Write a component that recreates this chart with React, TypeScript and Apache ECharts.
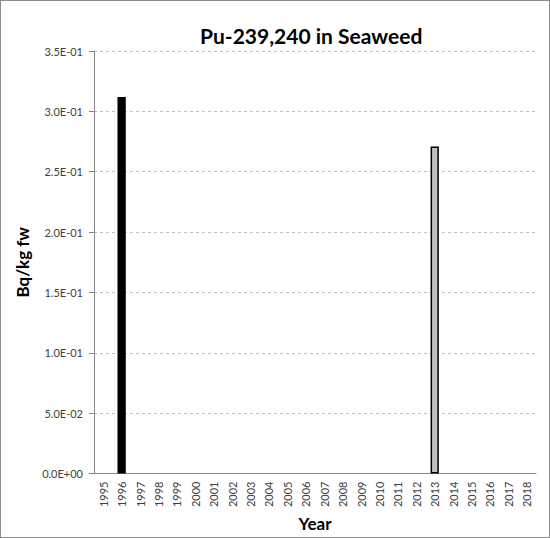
import React, { useEffect, useRef } from 'react';
import * as echarts from 'echarts';

const years = [
  '1995', '1996', '1997', '1998', '1999', '2000', '2001', '2002',
  '2003', '2004', '2005', '2006', '2007', '2008', '2009', '2010',
  '2011', '2012', '2013', '2014', '2015', '2016', '2017', '2018',
];
// Bq/kg fw, only two years measured
const values: (number | null)[] = [
  null, 0.312, null, null, null, null, null, null,
  null, null, null, null, null, null, null, null,
  null, null, 0.271, null, null, null, null, null,
];
const barColors: Record<string, string> = {
  '1996': '#000000',
  '2013': '#bfbfbf',
};

const fmtSci = (v: number) => {
  const [m, e] = v.toExponential(1).split('e');
  const n = Number(e);
  const sign = n < 0 ? '-' : '+';
  return `${m}E${sign}${String(Math.abs(n)).padStart(2, '0')}`;
};

const App: React.FC = () => {
  const chartRef = useRef<HTMLDivElement>(null);

  useEffect(() => {
    if (!chartRef.current) return;
    const chart = echarts.init(chartRef.current, null, { renderer: 'svg' });
    const font = 'Lato, "Liberation Sans", sans-serif';

    chart.setOption({
      animation: false,
      textStyle: { fontFamily: font },
      title: {
        text: 'Pu-239,240 in Seaweed',
        left: 194,
        top: 19,
        textStyle: { fontSize: 21, fontWeight: 'bold', color: '#000', fontFamily: font },
      },
      grid: { left: 93, right: 13, top: 50, bottom: 63, containLabel: false },
      xAxis: {
        type: 'category',
        data: years,
        name: 'Year',
        nameLocation: 'middle',
        nameGap: 39,
        nameTextStyle: { fontSize: 17, fontWeight: 'bold', color: '#000' },
        axisLine: { lineStyle: { color: '#868686' } },
        axisTick: { length: 5, lineStyle: { color: '#868686' } },
        axisLabel: { rotate: 90, fontSize: 11, color: '#404040', margin: 8, interval: 0 },
      },
      yAxis: {
        type: 'value',
        min: 0,
        max: 0.35,
        interval: 0.05,
        name: 'Bq/kg fw',
        nameLocation: 'middle',
        nameGap: 62,
        nameTextStyle: { fontSize: 17, fontWeight: 'bold', color: '#000' },
        axisLine: { show: true, lineStyle: { color: '#868686' } },
        axisTick: { show: true, length: 5, lineStyle: { color: '#868686' } },
        axisLabel: { fontSize: 11, color: '#404040', margin: 11, formatter: fmtSci },
        splitLine: { lineStyle: { color: '#c0c0c0', type: [3, 3] } },
      },
      series: [
        {
          type: 'bar',
          barWidth: '45%',
          data: values.map((v, i) => ({
            value: v,
            itemStyle: {
              color: barColors[years[i]] || '#000',
              borderColor: '#000',
              borderWidth: 1.5,
            },
          })),
        },
      ],
    });

    return () => chart.dispose();
  }, []);

  return (
    <div
      style={{
        position: 'absolute',
        left: 0,
        top: 0,
        width: 550,
        height: 538,
        boxSizing: 'border-box',
        border: '1px solid #8c8c8c',
        background: '#fff',
      }}
    >
      <div ref={chartRef} style={{ width: 548, height: 536 }} />
    </div>
  );
};

export default App;
